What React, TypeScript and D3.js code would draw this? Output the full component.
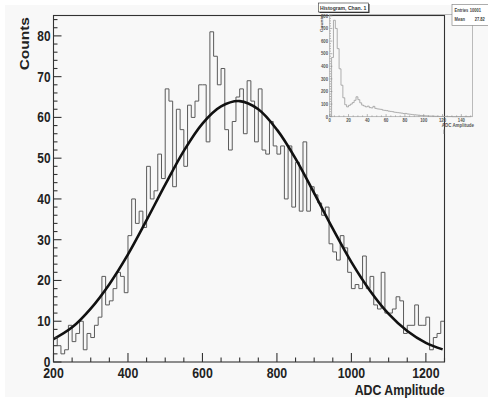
import React, { useEffect, useRef } from "react";
import * as d3 from "d3";

const W = 488;
const H = 401;
const FONT = "'Liberation Sans', Arial, Helvetica, sans-serif";

// main histogram, 10-unit bins from 200 to 1250
const binStart = 200;
const binWidth = 10;
const counts = [
  6, 4, 2, 3, 9, 5, 7, 10, 3, 7, 6, 9, 11, 21, 14, 15, 18, 22, 21, 17,
  31, 40, 34, 37, 33, 48, 40, 42, 51, 45,
  67, 64, 43, 62, 57, 48, 63, 60, 64, 68, 68, 54, 81,
  75, 68, 72, 57, 52, 59, 65, 67, 56, 69, 64, 54, 67,
  52, 51, 59, 53,
  51, 53, 40, 53, 38, 49, 37, 54, 37, 43, 41, 39, 36, 38,
  29, 27, 25, 31, 28, 22,
  18, 19, 18, 26, 18, 21, 14, 13, 22, 12, 12, 13, 16, 15, 7, 9, 9, 14, 9, 9, 11, 3, 6, 7, 10,
];

// gaussian fit
const fitX = [200, 250, 300, 350, 400, 450, 500, 550, 600, 650, 700, 750, 800, 850, 900, 950, 1000, 1050, 1100, 1150, 1200, 1245];
const fitY = [5.6, 8.5, 13.1, 19.1, 26.4, 34.8, 43.5, 51.8, 58.5, 62.7, 64, 62, 57, 49.9, 41.4, 32.7, 24.5, 17.5, 11.8, 7.6, 4.7, 3.1];

const xTicks = [200, 400, 600, 800, 1000, 1200];
const yTicks = [0, 10, 20, 30, 40, 50, 60, 70, 80];

// inset histogram (raw channel), 2-unit bins from 0
const insetBinWidth = 2;
const insetCounts = [
  5, 470, 765, 700, 540, 380, 250, 150, 95, 78,
  90, 100, 112, 130, 158, 135, 110, 92, 85, 78,
  84, 72, 70, 82, 66, 62, 60, 58, 52, 50,
  48, 44, 42, 40, 36, 34, 32, 30, 28, 25,
  26, 22, 20, 18, 16, 15, 13, 12, 10, 9,
  8, 7, 6, 5, 5, 4, 3, 3, 2, 2,
  2, 1, 1, 1, 1, 0, 0, 0, 0, 0,
  0, 0, 0, 0, 0,
];
const insetXTicks = [0, 20, 40, 60, 80, 100, 120, 140];
const insetYTicks = [0, 100, 200, 300, 400, 500, 600, 700, 800];

const SQ = 0.85; // horizontal squash of the picture's lettering

const App = () => {
  const ref = useRef(null);

  useEffect(() => {
    const svg = d3.select(ref.current);
    svg.selectAll("*").remove();

    const text = (g, x, y, s, size, anchor, fill = "#222", rot = 0) => {
      const t = g
        .append("g")
        .attr("transform", `translate(${x},${y}) scale(${SQ},1)` + (rot ? ` rotate(${rot})` : ""));
      t.append("text")
        .attr("text-anchor", anchor)
        .attr("font-family", FONT)
        .attr("font-weight", "bold")
        .attr("font-size", size)
        .attr("fill", fill)
        .text(s);
      return t;
    };

    svg.append("rect").attr("width", W).attr("height", H).attr("fill", "#ffffff");
    svg.append("rect").attr("x", 5).attr("y", 5).attr("width", W - 5).attr("height", 392).attr("fill", "#f8f8f8");

    // ---- main pad
    const x = d3.scaleLinear().domain([200, 1250]).range([53.5, 444.5]);
    const y = d3.scaleLinear().domain([0, 85]).range([362, 15.5]);

    const pts = counts.map((c, i) => [binStart + i * binWidth, c]);
    pts.push([binStart + counts.length * binWidth, counts[counts.length - 1]]);
    const step = d3
      .line()
      .x((d) => x(d[0]))
      .y((d) => y(d[1]))
      .curve(d3.curveStepAfter);
    svg.append("path").attr("d", step(pts)).attr("fill", "none").attr("stroke", "#5a5a5a").attr("stroke-width", 1);

    const fit = d3
      .line()
      .x((d) => x(d[0]))
      .y((d) => y(d[1]))
      .curve(d3.curveCatmullRom);
    svg
      .append("path")
      .attr("d", fit(fitX.map((v, i) => [v, fitY[i]])))
      .attr("fill", "none")
      .attr("stroke", "#111")
      .attr("stroke-width", 2.6);

    svg
      .append("rect")
      .attr("x", x(200))
      .attr("y", y(85))
      .attr("width", x(1250) - x(200))
      .attr("height", y(0) - y(85))
      .attr("fill", "none")
      .attr("stroke", "#333")
      .attr("stroke-width", 1.1);

    const ax = svg.append("g").attr("stroke", "#333").attr("stroke-width", 1.1);
    d3.range(0, 85, 2).forEach((v) => {
      const len = v % 10 === 0 ? 8 : 4;
      ax.append("line").attr("x1", x(200)).attr("x2", x(200) + len).attr("y1", y(v)).attr("y2", y(v));
    });
    d3.range(200, 1251, 50).forEach((v) => {
      const len = v % 200 === 0 ? 9 : 4.5;
      ax.append("line").attr("x1", x(v)).attr("x2", x(v)).attr("y1", y(0)).attr("y2", y(0) - len);
    });

    const lab = svg.append("g");
    yTicks.forEach((v) => text(lab, 50.5, y(v) + 5, String(v), 14, "end"));
    xTicks.forEach((v) => text(lab, x(v), 378, String(v), 14.5, "middle"));
    text(lab, 444.5, 395, "ADC Amplitude", 14.5, "end");
    text(lab, 28.5, 17, "Counts", 15.5, "end", "#222", -90);

    // ---- inset pad
    const ix = d3.scaleLinear().domain([0, 152]).range([329.7, 472.6]);
    const iy = d3.scaleLinear().domain([0, 810]).range([116.7, 14.6]);
    const inset = svg.append("g");

    const ipts = insetCounts.map((c, i) => [i * insetBinWidth, c]);
    ipts.push([insetCounts.length * insetBinWidth, 0]);
    const istep = d3
      .line()
      .x((d) => ix(d[0]))
      .y((d) => iy(d[1]))
      .curve(d3.curveStepAfter);
    inset.append("path").attr("d", istep(ipts)).attr("fill", "none").attr("stroke", "#9a9a9a").attr("stroke-width", 0.8);

    inset
      .append("rect")
      .attr("x", ix(0))
      .attr("y", iy(810))
      .attr("width", ix(152) - ix(0))
      .attr("height", iy(0) - iy(810))
      .attr("fill", "none")
      .attr("stroke", "#a0a0a0")
      .attr("stroke-width", 0.7);

    const iax = inset.append("g").attr("stroke", "#888").attr("stroke-width", 0.6);
    d3.range(0, 810, 20).forEach((v) => {
      const len = v % 100 === 0 ? 2.6 : 1.3;
      iax.append("line").attr("x1", ix(0)).attr("x2", ix(0) + len).attr("y1", iy(v)).attr("y2", iy(v));
    });
    d3.range(0, 152, 5).forEach((v) => {
      const len = v % 20 === 0 ? 2.6 : 1.3;
      iax.append("line").attr("x1", ix(v)).attr("x2", ix(v)).attr("y1", iy(0)).attr("y2", iy(0) - len);
    });

    insetYTicks.forEach((v) => text(inset, 328, iy(v) + 1.8, String(v), 5, "end", "#555"));
    insetXTicks.forEach((v) => text(inset, ix(v), 122, String(v), 5, "middle", "#555"));
    text(inset, 474, 126.5, "ADC Amplitude", 5.2, "end", "#555");
    text(inset, 322.5, 15, "Counts", 5, "end", "#555", -90);
    inset.append("line").attr("x1", 444).attr("x2", 444).attr("y1", 129.5).attr("y2", 134).attr("stroke", "#666").attr("stroke-width", 0.7);

    // title box
    inset.append("rect").attr("x", 319.5).attr("y", 4).attr("width", 50).attr("height", 9).attr("fill", "#333");
    inset
      .append("rect")
      .attr("x", 318.5)
      .attr("y", 3)
      .attr("width", 50)
      .attr("height", 9)
      .attr("fill", "#fff")
      .attr("stroke", "#333")
      .attr("stroke-width", 0.6);
    text(inset, 320, 10.2, "Histogram, Chan. 1", 6, "start", "#333");

    // stats box
    inset
      .append("rect")
      .attr("x", 452)
      .attr("y", 4.5)
      .attr("width", 40)
      .attr("height", 21)
      .attr("fill", "#fff")
      .attr("stroke", "#777")
      .attr("stroke-width", 0.6);
    text(inset, 454.5, 12, "Entries", 4.8, "start", "#444");
    text(inset, 469.7, 12, "10001", 4.8, "start", "#444");
    text(inset, 454.5, 21, "Mean", 4.8, "start", "#444");
    text(inset, 474.7, 21, "27.82", 4.8, "start", "#444");
  }, []);

  return <svg ref={ref} width={W} height={H} style={{ position: "absolute", left: 0, top: 0, display: "block" }} />;
};

export default App;
